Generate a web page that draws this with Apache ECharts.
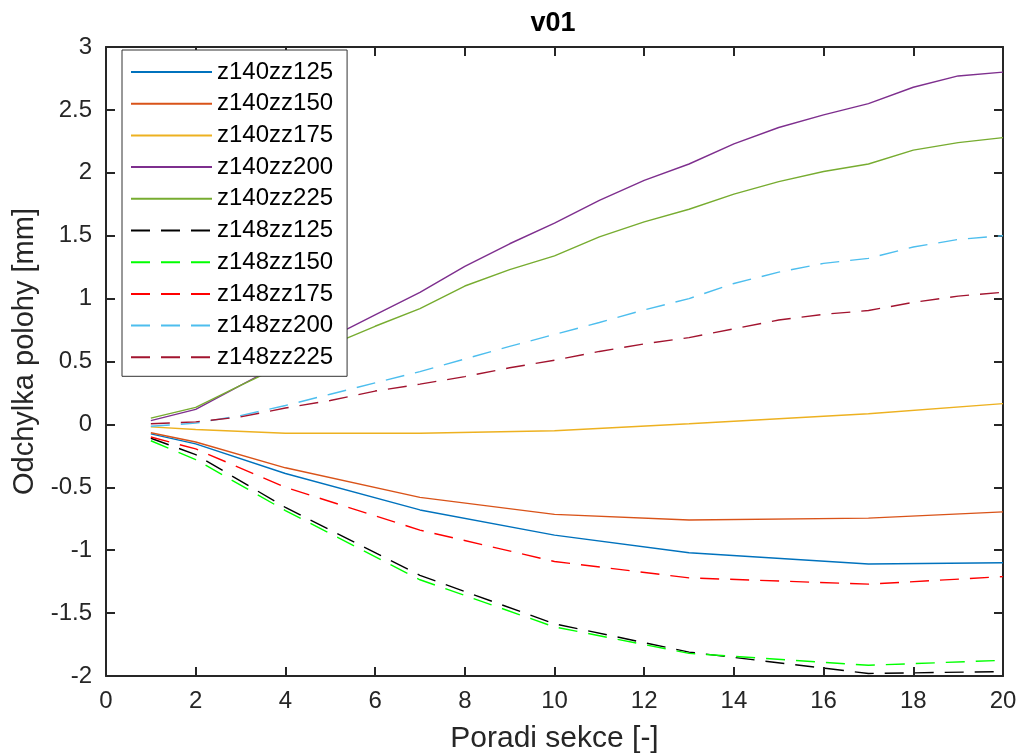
<!DOCTYPE html>
<html><head><meta charset="utf-8">
<script src="https://cdn.jsdelivr.net/npm/echarts@6/dist/echarts.min.js"></script>
<style>html,body{margin:0;padding:0;background:#fff}#c{width:1022px;height:756px}</style>
</head><body><div id="c"></div>
<script>
const xSparse = [1, 2, 4, 7, 10, 13, 17, 20];
const xFull = [1,2,3,4,5,6,7,8,9,10,11,12,13,14,15,16,17,18,19,20];

const names = ['z140zz125','z140zz150','z140zz175','z140zz200','z140zz225','z148zz125','z148zz150','z148zz175','z148zz200','z148zz225'];
const colors = ['#0072BD','#D95319','#EDB120','#7E2F8E','#77AC30','#000000','#00FF00','#FF0000','#4DBEEE','#A2142F'];

const z140zz125 = [-0.075, -0.155, -0.39, -0.68, -0.88, -1.02, -1.11, -1.10];
const z140zz150 = [-0.066, -0.14, -0.345, -0.58, -0.715, -0.76, -0.745, -0.695];
const z140zz175 = [-0.02, -0.04, -0.07, -0.07, -0.05, 0.005, 0.085, 0.165];
const z140zz200 = [0.03, 0.12, 0.31, 0.50, 0.69, 0.87, 1.05, 1.256, 1.436, 1.60, 1.78, 1.94, 2.07, 2.23, 2.36, 2.46, 2.55, 2.68, 2.77, 2.80];
const z140zz225 = [0.05, 0.135, 0.31, 0.48, 0.63, 0.78, 0.92, 1.10, 1.23, 1.34, 1.49, 1.61, 1.71, 1.83, 1.93, 2.01, 2.07, 2.18, 2.24, 2.28];
const z148zz125 = [-0.11, -0.24, -0.66, -1.20, -1.585, -1.81, -1.98, -1.965];
const z148zz150 = [-0.13, -0.28, -0.685, -1.235, -1.61, -1.82, -1.915, -1.875];
const z148zz175 = [-0.10, -0.195, -0.50, -0.84, -1.09, -1.22, -1.27, -1.21];
const z148zz200 = [-0.015, 0.01, 0.07, 0.15, 0.24, 0.33, 0.42, 0.52, 0.62, 0.715, 0.81, 0.91, 1.00, 1.12, 1.21, 1.28, 1.32, 1.41, 1.47, 1.50];
const z148zz225 = [0.005, 0.02, 0.06, 0.13, 0.19, 0.265, 0.32, 0.38, 0.45, 0.51, 0.58, 0.64, 0.69, 0.76, 0.83, 0.875, 0.905, 0.97, 1.02, 1.05];

const values = [z140zz125, z140zz150, z140zz175, z140zz200, z140zz225, z148zz125, z148zz150, z148zz175, z148zz200, z148zz225];
const xs = [xSparse, xSparse, xSparse, xFull, xFull, xSparse, xSparse, xSparse, xFull, xFull];

const FONT = 'Liberation Sans, Arial, sans-serif';
const AX = '#262626';

const series = values.map((v, i) => ({
  name: names[i],
  type: 'line',
  data: v.map((y, k) => [xs[i][k], y]),
  symbol: 'none',
  showSymbol: false,
  animation: false,
  color: colors[i],
  itemStyle: { color: colors[i] },
  lineStyle: { color: colors[i], width: 1.4, type: i >= 5 ? [19, 11] : 'solid' },
  emphasis: { disabled: true },
  z: 2
}));

const tickAxis = {
  axisLine: { show: true, onZero: false, lineStyle: { color: AX, width: 2 } },
  axisTick: { show: true, inside: true, length: 9, lineStyle: { color: AX, width: 2 } },
  splitLine: { show: false }
};

const chart = echarts.init(document.getElementById('c'), null, { renderer: 'canvas' });
chart.setOption({
  animation: false,
  backgroundColor: '#fff',
  graphic: [{
    type: 'text', x: 553, y: 24, z: 100,
    style: { text: 'v01', align: 'center', verticalAlign: 'middle', fill: '#000',
             font: 'bold 27px Liberation Sans, Arial, sans-serif' }
  }],
  grid: { left: 106, right: 19, top: 47, bottom: 80, show: false, containLabel: false, outerBoundsMode: 'none' },
  legend: {
    orient: 'vertical', left: 122, top: 50,
    backgroundColor: '#fff', borderColor: '#333', borderWidth: 1,
    padding: [10, 14, 7, 8],
    itemWidth: 81, itemHeight: 14, itemGap: 7.7,
    itemStyle: { opacity: 0, borderWidth: 0 },
    textStyle: { fontFamily: FONT, fontSize: 24, color: '#000', lineHeight: 24 },
    data: names,
    z: 10
  },
  xAxis: [Object.assign({
    type: 'value', min: 0, max: 20, interval: 2,
    name: 'Poradi sekce [-]', nameLocation: 'middle', nameGap: 48,
    nameTextStyle: { fontFamily: FONT, fontSize: 30, color: '#262626' },
    axisLabel: { fontFamily: FONT, fontSize: 24, color: '#262626', margin: 13 }
  }, tickAxis), Object.assign({
    type: 'value', min: 0, max: 20, interval: 2, position: 'top',
    axisLabel: { show: false }
  }, tickAxis)],
  yAxis: [Object.assign({
    type: 'value', min: -2, max: 3, interval: 0.5,
    name: 'Odchylka polohy [mm]', nameLocation: 'middle', nameGap: 65, nameRotate: 90,
    nameTextStyle: { fontFamily: FONT, fontSize: 29, color: '#262626', padding: [0, 0, 0, 20] },
    axisLabel: { fontFamily: FONT, fontSize: 24, color: '#262626', margin: 14 }
  }, tickAxis), Object.assign({
    type: 'value', min: -2, max: 3, interval: 0.5, position: 'right',
    axisLabel: { show: false }
  }, tickAxis)],
  series: series
});
</script></body></html>
